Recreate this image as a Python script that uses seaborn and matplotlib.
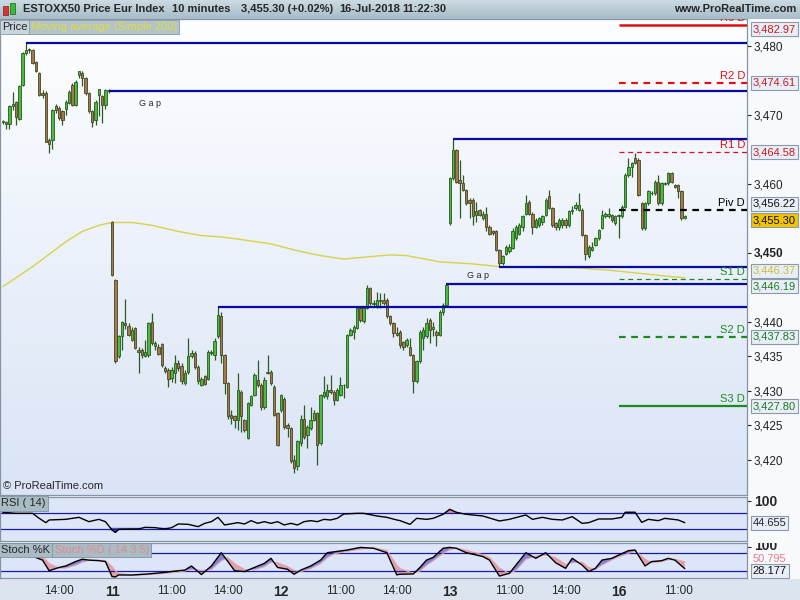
import numpy as np
import matplotlib
matplotlib.use("Agg")
import matplotlib.pyplot as plt
import seaborn as sns
from matplotlib.colors import LinearSegmentedColormap
from matplotlib.patches import Rectangle
from matplotlib.transforms import Bbox, TransformedBbox

# ---------------- data (10-minute bars, 10-Jul .. 16-Jul-2018) ----------------
opens = [
    # 10 Jul
    3469.0, 3469.0, 3468.6, 3471.2, 3471.9, 3469.4, 3474.3, 3478.9, 3479.4, 3479.4, 3477.6,
    3476.0, 3473.1, 3473.1, 3466.4, 3466.4, 3471.2, 3471.0, 3470.5, 3470.9, 3471.7, 3474.3,
    3471.4, 3475.8, 3476.0, 3475.3, 3473.1, 3470.5, 3469.2, 3472.9, 3472.7, 3471.4, 3473.6,
    # 11 Jul
    3454.5, 3446.1, 3435.0, 3438.0, 3439.8, 3439.4, 3437.4, 3439.1, 3436.0, 3435.9, 3435.1,
    3435.2, 3440.0, 3436.5, 3436.4, 3436.8, 3433.3, 3433.1, 3431.9, 3432.6, 3434.0, 3433.6,
    3431.1, 3432.8, 3435.0, 3435.5, 3433.5, 3430.9, 3432.1, 3431.8, 3435.5, 3435.2, 3437.9,
    3440.8, 3435.2, 3431.1, 3426.5, 3426.3, 3425.8, 3429.9, 3425.8, 3423.2, 3428.0, 3429.4,
    3431.6, 3430.9, 3427.7, 3432.6, 3432.8, 3430.6, 3426.8,
    # 12 Jul
    3427.3, 3428.9, 3425.1, 3424.6, 3420.0, 3419.1, 3422.4, 3426.0, 3423.6, 3424.6, 3425.8,
    3426.8, 3422.4, 3429.2, 3429.2, 3430.1, 3429.9, 3428.7, 3429.4, 3430.8, 3430.6, 3438.1,
    3438.6, 3439.1, 3442.0, 3440.1, 3442.0, 3444.9, 3442.6, 3442.3, 3443.0, 3443.2, 3443.1,
    3440.8, 3439.8, 3438.4, 3438.6, 3437.1, 3436.7, 3436.4, 3435.2, 3431.4, 3434.3, 3437.6,
    3437.9, 3440.3, 3439.0, 3438.6, 3438.1, 3441.5, 3442.5,
    # 13 Jul
    3454.3, 3460.8, 3464.9, 3460.6, 3460.1, 3459.1, 3457.7, 3457.7, 3455.5, 3456.2, 3455.0,
    3455.7, 3453.8, 3453.1, 3453.1, 3450.4, 3448.5, 3449.9, 3450.2, 3450.7, 3452.1, 3452.8,
    3453.8, 3455.7, 3457.4, 3455.7, 3453.8, 3454.0, 3454.5, 3455.5, 3458.2, 3456.5, 3454.3,
    3453.8, 3454.0, 3454.8, 3454.0, 3456.0, 3456.5, 3456.2, 3456.2, 3452.6, 3449.5, 3450.4,
    3451.2, 3452.1, 3453.6, 3455.3, 3455.3, 3455.5, 3454.3,
    # 16 Jul
    3455.3, 3455.3, 3456.7, 3461.3, 3462.5, 3463.7, 3463.5, 3457.2, 3453.6, 3457.2, 3458.6,
    3458.6, 3460.3, 3457.2, 3460.0, 3460.1, 3461.5, 3459.8, 3459.8, 3458.9, 3455.0,
]
highs = [
    3469.3, 3469.1, 3471.4, 3473.3, 3472.0, 3474.3, 3479.1, 3480.4, 3479.6, 3479.5, 3477.8,
    3476.2, 3473.6, 3473.4, 3466.6, 3470.8, 3471.5, 3471.3, 3470.7, 3472.2, 3473.6, 3474.6,
    3475.0, 3476.3, 3476.3, 3475.5, 3473.3, 3470.7, 3472.1, 3473.8, 3472.8, 3473.8, 3473.7,
    3454.6, 3446.2, 3438.1, 3440.1, 3443.3, 3439.8, 3439.3, 3439.3, 3436.3, 3436.2, 3437.4,
    3440.0, 3441.3, 3437.2, 3436.8, 3437.0, 3433.6, 3433.3, 3433.5, 3435.2, 3434.5, 3434.0,
    3433.0, 3437.6, 3436.0, 3435.8, 3433.8, 3432.0, 3432.3, 3436.0, 3436.0, 3437.6, 3442.1,
    3441.5, 3435.4, 3431.3, 3427.3, 3426.5, 3432.6, 3430.2, 3426.0, 3428.4, 3429.4, 3432.6,
    3434.5, 3431.1, 3432.0, 3435.2, 3433.0, 3430.8, 3427.0,
    3429.6, 3429.1, 3425.3, 3424.8, 3420.7, 3422.9, 3426.5, 3428.0, 3425.0, 3427.7, 3427.3,
    3427.0, 3429.6, 3432.2, 3431.0, 3432.3, 3430.1, 3430.4, 3432.0, 3431.0, 3438.3, 3439.1,
    3439.6, 3442.2, 3442.2, 3442.3, 3445.4, 3445.0, 3443.2, 3444.4, 3444.2, 3444.2, 3443.4,
    3441.0, 3440.0, 3439.3, 3438.8, 3437.3, 3437.6, 3437.6, 3435.4, 3434.5, 3438.8, 3439.3,
    3440.6, 3440.5, 3440.0, 3438.8, 3441.7, 3442.7, 3445.5,
    3461.0, 3466.5, 3465.1, 3463.5, 3461.3, 3459.3, 3457.9, 3457.9, 3457.4, 3456.4, 3456.0,
    3456.7, 3454.0, 3453.3, 3453.3, 3450.6, 3449.7, 3451.1, 3451.3, 3453.6, 3454.0, 3454.3,
    3455.5, 3458.4, 3457.6, 3455.9, 3455.0, 3455.2, 3455.5, 3457.9, 3459.1, 3456.7, 3454.5,
    3455.0, 3455.0, 3455.0, 3456.2, 3456.8, 3457.4, 3458.6, 3456.5, 3452.8, 3451.1, 3451.6,
    3452.3, 3453.5, 3456.2, 3455.9, 3456.5, 3455.7, 3455.5,
    3455.6, 3456.9, 3461.5, 3463.7, 3463.2, 3464.5, 3463.7, 3457.4, 3457.4, 3459.1, 3459.0,
    3460.5, 3461.3, 3460.3, 3460.3, 3461.7, 3461.7, 3460.0, 3460.0, 3459.1, 3455.5,
]
lows = [
    3468.6, 3468.0, 3468.0, 3470.7, 3468.5, 3469.2, 3474.2, 3478.7, 3479.0, 3477.3, 3476.2,
    3472.7, 3472.5, 3466.0, 3464.5, 3465.1, 3470.3, 3469.2, 3468.5, 3469.9, 3471.5, 3471.2,
    3471.2, 3475.3, 3474.1, 3472.9, 3470.3, 3468.3, 3468.5, 3469.8, 3468.8, 3470.9, 3473.1,
    3446.7, 3434.1, 3434.7, 3436.0, 3439.0, 3438.0, 3437.2, 3436.1, 3432.6, 3434.8, 3434.9,
    3434.9, 3436.7, 3436.0, 3435.2, 3433.5, 3432.6, 3430.6, 3431.3, 3431.1, 3432.9, 3431.0,
    3430.9, 3432.5, 3434.8, 3433.2, 3431.0, 3430.7, 3430.8, 3431.6, 3435.2, 3434.5, 3437.6,
    3434.0, 3429.5, 3426.0, 3425.2, 3424.6, 3424.4, 3424.0, 3424.1, 3423.0, 3427.8, 3429.2,
    3430.6, 3427.3, 3427.4, 3432.4, 3430.9, 3426.3, 3422.0,
    3427.0, 3424.5, 3423.4, 3419.5, 3418.1, 3418.5, 3422.0, 3423.1, 3421.8, 3424.4, 3425.6,
    3419.3, 3422.2, 3429.0, 3428.9, 3429.5, 3428.0, 3428.5, 3429.2, 3429.0, 3430.4, 3437.9,
    3437.5, 3438.9, 3440.0, 3439.9, 3441.8, 3442.5, 3442.2, 3442.0, 3442.0, 3442.5, 3440.6,
    3439.6, 3437.8, 3437.9, 3436.2, 3435.9, 3436.4, 3435.0, 3429.7, 3431.1, 3434.0, 3436.0,
    3437.6, 3437.0, 3438.0, 3436.5, 3437.9, 3441.0, 3442.3,
    3454.1, 3460.6, 3460.1, 3455.0, 3458.9, 3456.9, 3455.0, 3454.0, 3454.5, 3455.3, 3454.8,
    3453.1, 3452.6, 3452.6, 3450.2, 3447.9, 3448.3, 3449.7, 3450.0, 3450.5, 3451.9, 3452.6,
    3453.2, 3455.5, 3455.5, 3452.8, 3453.6, 3453.8, 3454.0, 3455.3, 3456.3, 3453.8, 3453.3,
    3453.3, 3453.6, 3453.6, 3453.8, 3455.7, 3456.2, 3456.0, 3452.4, 3449.0, 3449.3, 3450.2,
    3451.0, 3451.9, 3453.4, 3455.0, 3455.0, 3454.5, 3454.0,
    3452.1, 3455.0, 3456.5, 3461.0, 3461.0, 3462.8, 3458.2, 3453.3, 3453.3, 3457.0, 3458.4,
    3458.4, 3457.0, 3457.0, 3459.8, 3459.9, 3460.1, 3459.4, 3458.0, 3454.8, 3454.9,
]
closes = [
    3469.1, 3468.6, 3471.2, 3471.5, 3469.7, 3474.2, 3478.9, 3479.4, 3479.3, 3477.5, 3476.4,
    3472.9, 3472.9, 3466.1, 3465.8, 3470.7, 3470.7, 3469.5, 3469.3, 3471.9, 3473.3, 3471.4,
    3474.8, 3476.3, 3475.3, 3473.1, 3470.5, 3469.0, 3471.9, 3473.7, 3471.4, 3473.6, 3473.4,
    3446.8, 3434.3, 3437.9, 3440.0, 3439.5, 3438.1, 3438.8, 3436.2, 3435.7, 3435.2, 3435.6,
    3439.8, 3436.9, 3436.9, 3435.4, 3433.7, 3432.9, 3431.8, 3433.0, 3434.0, 3433.3, 3431.4,
    3432.6, 3435.0, 3435.5, 3433.5, 3431.4, 3431.8, 3431.0, 3435.7, 3435.7, 3437.2, 3441.0,
    3435.2, 3431.1, 3426.3, 3426.1, 3425.8, 3430.2, 3426.3, 3424.4, 3428.2, 3429.2, 3432.3,
    3430.9, 3427.7, 3431.6, 3432.8, 3431.1, 3426.5, 3422.2,
    3429.4, 3424.8, 3424.6, 3419.8, 3418.9, 3422.7, 3426.0, 3423.4, 3424.8, 3425.8, 3426.8,
    3422.2, 3429.4, 3429.9, 3430.2, 3429.9, 3428.7, 3430.2, 3430.9, 3430.7, 3438.1, 3438.8,
    3439.3, 3442.0, 3440.3, 3442.0, 3444.9, 3442.7, 3442.8, 3443.2, 3443.2, 3442.8, 3440.8,
    3439.8, 3438.4, 3438.1, 3436.7, 3436.4, 3437.4, 3435.2, 3431.4, 3434.3, 3438.6, 3438.8,
    3439.8, 3438.8, 3439.2, 3438.1, 3441.5, 3442.5, 3445.4,
    3460.8, 3464.9, 3460.3, 3460.1, 3459.1, 3457.2, 3457.2, 3455.3, 3456.0, 3455.5, 3455.7,
    3453.8, 3452.8, 3452.9, 3450.4, 3448.5, 3449.5, 3450.9, 3450.9, 3453.1, 3453.8, 3454.0,
    3455.3, 3457.2, 3455.7, 3453.8, 3454.8, 3455.0, 3455.3, 3457.7, 3456.5, 3454.0, 3453.8,
    3454.8, 3454.8, 3454.0, 3456.0, 3456.2, 3456.9, 3456.9, 3452.6, 3449.9, 3450.9, 3450.9,
    3452.1, 3453.3, 3455.5, 3455.7, 3455.7, 3454.8, 3455.3,
    3455.4, 3456.7, 3461.3, 3462.5, 3463.0, 3463.0, 3458.4, 3453.6, 3457.2, 3458.9, 3458.7,
    3460.3, 3457.2, 3460.1, 3460.1, 3461.5, 3460.3, 3459.6, 3458.9, 3455.0, 3455.3,
]

# simple moving average 200 at a few bars
ma_bar = [0, 9, 19, 24, 29, 33, 39, 45, 52, 60, 66, 71, 81, 89, 96, 103, 112, 117, 122,
          132, 142, 150, 162, 174, 183, 193, 201, 206]
ma_val = [3445.1, 3448.0, 3451.6, 3453.1, 3454.0, 3454.4, 3454.4, 3454.0, 3453.2, 3452.5,
          3452.3, 3452.0, 3451.3, 3450.3, 3449.6, 3449.1, 3449.5, 3449.7, 3449.6, 3448.7,
          3448.4, 3448.0, 3447.9, 3447.8, 3447.5, 3447.0, 3446.6, 3446.4]

# horizontal "gap" / high-low lines: level and first bar
level_val = [3480.4, 3473.4, 3442.1, 3445.5, 3466.5, 3447.9]
level_start = [7, 32, 65, 134, 136, 150]

# daily pivots
pivot_names = ["R3 D", "R2 D", "R1 D", "Piv D", "S1 D", "S2 D", "S3 D"]
pivot_levels = [3482.97, 3474.61, 3464.58, 3456.22, 3446.19, 3437.83, 3427.80]

# RSI(14)
rsi_bar = [0, 4, 9, 11, 13, 14, 19, 23, 26, 29, 31, 33, 34, 35, 41, 43, 46, 49, 51, 53, 56, 59,
           61, 63, 65, 67, 71, 73, 75, 77, 79, 81, 83, 85, 87, 89, 91, 93, 95, 97, 99, 101, 103,
           107, 109, 113, 116, 119, 120, 123, 125, 128, 130, 133, 135, 137, 140, 145, 150, 153,
           158, 160, 163, 166, 169, 172, 175, 177, 180, 184, 187, 188, 191, 193, 195, 198, 200,
           204, 206]
rsi_val = [70.4, 67.9, 67.9, 55.4, 44.6, 51.3, 52.9, 57.9, 47.1, 52.9, 47.1, 26.3, 20.4, 27.9,
           28.8, 32.9, 32.1, 28.8, 32.1, 41.3, 40.4, 34.6, 42.9, 47.1, 57.9, 38.8, 44.6, 41.3,
           49.6, 42.9, 47.1, 42.9, 47.1, 38.8, 42.9, 38.8, 47.1, 49.6, 47.1, 52.9, 51.3, 55.4,
           66.3, 67.9, 67.9, 61.3, 57.9, 51.3, 49.6, 40.4, 55.4, 52.9, 55.4, 65.4, 77.9, 70.4,
           65.4, 61.3, 48.8, 52.9, 63.8, 52.9, 57.9, 52.9, 51.3, 59.6, 42.9, 44.6, 53.8, 53.8,
           57.9, 70.4, 70.4, 45.4, 52.9, 49.6, 55.4, 51.3, 44.655]

# Stochastic %K / %D (14 3 5)
sto_bar = [0, 5, 9, 12, 14, 17, 19, 22, 24, 26, 29, 31, 33, 34, 35, 39, 44, 49, 53, 55, 57, 60,
           63, 66, 68, 70, 73, 76, 79, 81, 83, 86, 88, 90, 93, 96, 98, 100, 104, 108, 112, 116,
           119, 120, 124, 126, 128, 130, 133, 135, 137, 140, 145, 147, 150, 153, 155, 158, 161,
           164, 167, 170, 172, 175, 177, 179, 181, 184, 186, 189, 191, 194, 196, 199, 201, 203,
           206]
sto_k = [88, 80, 70, 57, 21, 32, 37, 52, 60, 57, 55, 52, 1, 0, 6.5, 6.5, 10, 15.5, 21, 23, 37,
         8, 37, 82, 52, 21, 18, 32, 46, 63, 32, 26, 9, 23, 37, 57, 82, 85, 91, 100, 97, 82, 7,
         9, 10, 32, 57, 66, 97, 100, 97, 82, 69, 57, 3, 12, 40, 82, 63, 82, 48, 29, 63, 40, 18,
         29, 57, 63, 74, 89, 91, 37, 52, 55, 63, 57, 28.177]
sto_d = [85, 84, 78, 68, 45, 30, 30, 40, 50, 56, 57, 55, 35, 20, 12, 5, 8, 12, 17, 20, 26, 22,
         25, 55, 65, 45, 25, 24, 35, 50, 48, 35, 22, 18, 28, 45, 65, 78, 87, 94, 98, 90, 40, 28,
         12, 20, 40, 55, 80, 92, 98, 90, 75, 66, 30, 12, 22, 60, 70, 74, 65, 42, 48, 50, 32, 25,
         40, 58, 68, 80, 88, 60, 48, 52, 58, 60, 50.795]

tick_bar = [17, 33, 51, 68, 84, 102, 119, 135, 153, 170, 186, 204]
tick_text = ["14:00", "11", "11:00", "14:00", "12", "11:00", "14:00", "13", "11:00", "14:00",
             "16", "11:00"]

# ---------------- figure ----------------
sns.set_style("white")
plt.rcParams["font.family"] = ["Liberation Sans", "DejaVu Sans"]

fig = plt.figure(figsize=(8, 6), dpi=100, facecolor="#f7f9fd")


def fy(px):
    return 1 - px / 600


XL = (-0.85, 224.8)
ax = fig.add_axes([0, fy(495), 747 / 800, 476 / 600])
rsi_ax = fig.add_axes([0, fy(541), 747 / 800, 44 / 600])
sto_ax = fig.add_axes([0, fy(578), 747 / 800, 35 / 600])

# bottom band behind the time axis
fig.patches.append(Rectangle((0, 0), 1, 21 / 600, transform=fig.transFigure,
                             facecolor="#dce4ef", edgecolor="none", zorder=-5))

# main panel background gradient
grad = np.linspace(0, 1, 256).reshape(-1, 1)
bg_cmap = LinearSegmentedColormap.from_list("bg", ["#fdfeff", "#dae4f6"])
ax.imshow(grad, extent=(0, 1, 0, 1), transform=ax.transAxes, aspect="auto",
          cmap=bg_cmap, zorder=0)

o = np.array(opens)
h = np.array(highs)
l = np.array(lows)
c = np.array(closes)
x = np.arange(len(c))
up = c >= o

ax.vlines(x, l, h, color="#2d5a22", lw=0.9, zorder=3)
body = np.where(np.abs(c - o) < 0.12, 0.12, c - o)
ax.bar(x[up], body[up], bottom=o[up], width=0.72, color="#48bb40",
       edgecolor="#2a5a1e", linewidth=0.6, zorder=4)
ax.bar(x[~up], body[~up], bottom=o[~up], width=0.72, color="#a8774c",
       edgecolor="#3e4a22", linewidth=0.6, zorder=4)

# moving average
sns.lineplot(x=ma_bar, y=ma_val, ax=ax, color="#d6d24a", linewidth=1.0, zorder=2)

# gap / extreme lines
for lv, st in zip(level_val, level_start):
    ax.hlines(lv, st, XL[1], color="#0a0aa0", lw=1.6, zorder=5)
ax.text(44.5, 3471.6, "G a p", fontsize=6.5, ha="center", va="center", zorder=6)
ax.text(143.6, 3446.7, "G a p", fontsize=6.5, ha="center", va="center", zorder=6)

# pivots
pv_colors = ["#e01010", "#e01010", "#e01010", "#000000", "#1d8a1d", "#1d8a1d", "#1d8a1d"]
pv_styles = ["-", (0, (3, 2.5)), (0, (4, 3)), (0, (3, 2.5)), (0, (4, 3)), (0, (3, 2.5)), "-"]
pv_width = [1.8, 1.6, 0.9, 1.6, 0.9, 1.6, 1.6]
for name, lv, col, ls, lw in zip(pivot_names, pivot_levels, pv_colors, pv_styles, pv_width):
    ax.hlines(lv, 186, XL[1], color=col, linestyle=ls, lw=lw, zorder=5)
    ax.text(XL[1] - 0.6, lv + 0.25, name, color=col, fontsize=8, ha="right", va="bottom",
            zorder=6, clip_on=True)

ax.set_xlim(*XL)
ax.set_ylim(3414.93, 3483.87)
ax.set_xticks([])
ax.yaxis.tick_right()
yt = [3420, 3425, 3430, 3435, 3440, 3450, 3460, 3470, 3480]
ax.set_yticks(yt)
ax.set_yticklabels([f"{v:,}" for v in yt])
for t, v in zip(ax.get_yticklabels(), yt):
    if v == 3450:
        t.set_fontweight("bold")
        t.set_fontsize(10)
ax.tick_params(axis="y", direction="out", length=3, pad=2, labelsize=8.5, colors="#222222")
ax.set_xlabel("")
ax.set_ylabel("")

# value boxes on the right
yaxis_tr = ax.get_yaxis_transform()
box_vals = [3482.97, 3474.61, 3464.58, 3456.22, 3455.30, 3446.37, 3446.19, 3437.83, 3427.80]
box_text_col = ["#d01818", "#d01818", "#d01818", "#111111", "#111111", "#c8c030",
                "#1d7a1d", "#1d7a1d", "#1d7a1d"]
box_face = ["#e8eef7"] * 4 + ["#f2c400"] + ["#e8eef7"] * 4
box_shift = [-3, 0, 0, 4.5, -3, 5, -5, 0, 0]
for v, tc, fc, dy in zip(box_vals, box_text_col, box_face, box_shift):
    ax.annotate(f"{v:,.2f}", xy=(1, v), xycoords=yaxis_tr, xytext=(4, dy),
                textcoords="offset points", ha="left", va="center", fontsize=8, color=tc,
                bbox=dict(boxstyle="square,pad=0.18", fc=fc, ec="#8c99a8", lw=0.8),
                annotation_clip=False, zorder=7)

fig.text(2 / 800, fy(27), "Price", fontsize=8, va="center", ha="left",
         bbox=dict(boxstyle="square,pad=0.2", fc="#c9d5dd", ec="#8a9aa6", lw=0.6))
fig.text(31 / 800, fy(27), "Moving average (Simple 200)", fontsize=8, va="center",
         ha="left", color="#dede40",
         bbox=dict(boxstyle="square,pad=0.2", fc="#b3c3cb", ec="#8a9aa6", lw=0.6))
ax.text(0.004, 0.008, "\u00a9 ProRealTime.com", transform=ax.transAxes, fontsize=8,
        va="bottom", ha="left", zorder=6)

# ---------------- RSI ----------------
rsi_ax.set_facecolor("#dce6f8")
r = np.array(rsi_val)
rb = np.array(rsi_bar)
rsi_ax.fill_between(rb, r, 70, where=r > 70, interpolate=True, color="#d88a9a", zorder=1)
rsi_ax.fill_between(rb, r, 30, where=r < 30, interpolate=True, color="#5a5ab8", zorder=1)
rsi_ax.axhline(70, color="#1c1c9a", lw=0.9, zorder=1)
rsi_ax.axhline(30, color="#1c1c9a", lw=0.9, zorder=1)
sns.lineplot(x=rsi_bar, y=rsi_val, ax=rsi_ax, color="black", linewidth=1.0, zorder=3)
rsi_ax.set_xlim(*XL)
rsi_ax.set_ylim(-1.25, 108.75)
rsi_ax.set_xticks([])
rsi_ax.yaxis.tick_right()
rsi_ax.set_yticks([100])
rsi_ax.set_yticklabels(["100"], fontweight="bold", fontsize=10)
rsi_ax.tick_params(axis="y", length=3, pad=2)
rsi_ax.set_xlabel("")
rsi_ax.set_ylabel("")
rsi_ax.text(0.002, 0.97, "RSI ( 14)", transform=rsi_ax.transAxes, fontsize=8, va="top",
            bbox=dict(boxstyle="square,pad=0.2", fc="#a9bcc4", ec="#7f95a0", lw=0.6), zorder=6)
rsi_ax.annotate("44.655", xy=(1, 44.655), xycoords=rsi_ax.get_yaxis_transform(),
                xytext=(4, 0), textcoords="offset points", va="center", fontsize=8,
                bbox=dict(boxstyle="square,pad=0.18", fc="#e8eef7", ec="#8c99a8", lw=0.8),
                annotation_clip=False)

# ---------------- Stochastic ----------------
sto_ax.set_facecolor("#dce6f8")
k = np.array(sto_k)
d = np.array(sto_d)
sb = np.array(sto_bar)
sto_ax.fill_between(sb, k, d, where=k >= d, interpolate=True, color="#6a6ad0", alpha=0.8,
                    lw=0, zorder=1)
sto_ax.fill_between(sb, k, d, where=k < d, interpolate=True, color="#e09aa2", alpha=0.9,
                    lw=0, zorder=1)
sto_ax.axhline(80, color="#1c1c9a", lw=0.9, zorder=2)
sto_ax.axhline(20, color="#1c1c9a", lw=0.9, zorder=2)
sns.lineplot(x=sto_bar, y=sto_d, ax=sto_ax, color="#e6a0a8", linewidth=0.8, zorder=2)
sns.lineplot(x=sto_bar, y=sto_k, ax=sto_ax, color="black", linewidth=1.0, zorder=3)
sto_ax.set_xlim(*XL)
sto_ax.set_ylim(-3.7, 114.9)
sto_ax.yaxis.tick_right()
sto_ax.set_yticks([100])
sto_ax.set_yticklabels([""])
sto_ax.tick_params(axis="y", length=3, pad=2)
# "100" label partly hidden under the RSI panel, as in the original
hundred = sto_ax.annotate("100", xy=(1, 100), xycoords=sto_ax.get_yaxis_transform(),
                          xytext=(5, 1), textcoords="offset points", va="center",
                          fontsize=10, fontweight="bold", annotation_clip=False)
hundred.set_clip_box(TransformedBbox(Bbox([[747 / 800, 0], [1, fy(543)]]), fig.transFigure))
hundred.set_clip_on(True)
sto_ax.set_xticks(tick_bar)
sto_ax.set_xticklabels(tick_text)
for t in sto_ax.get_xticklabels():
    if ":" in t.get_text():
        t.set_fontsize(8.5)
    else:
        t.set_fontsize(10)
        t.set_fontweight("bold")
sto_ax.tick_params(axis="x", length=0, pad=5)
sto_ax.set_xlabel("")
sto_ax.set_ylabel("")
sto_ax.text(0.002, 0.95, "Stoch %K", transform=sto_ax.transAxes, fontsize=8, va="top",
            bbox=dict(boxstyle="square,pad=0.2", fc="#a9bcc4", ec="#7f95a0", lw=0.6), zorder=6)
sto_ax.text(0.073, 0.95, "Stoch %D ( 14 3 5)", transform=sto_ax.transAxes, fontsize=8,
            va="top", color="#e08890",
            bbox=dict(boxstyle="square,pad=0.2", fc="#a9bcc4", ec="#7f95a0", lw=0.6), zorder=6)
# %D value (no frame) and %K value (framed)
sto_ax.annotate("50.795", xy=(1, 50.795), xycoords=sto_ax.get_yaxis_transform(),
                xytext=(4, 2), textcoords="offset points", va="center", fontsize=8,
                color="#e07f88", annotation_clip=False)
sto_ax.annotate("28.177", xy=(1, 28.177), xycoords=sto_ax.get_yaxis_transform(),
                xytext=(4, -2), textcoords="offset points", va="center", fontsize=8,
                color="#111111",
                bbox=dict(boxstyle="square,pad=0.18", fc="#e8eef7", ec="#8c99a8", lw=0.8),
                annotation_clip=False)

for a in (ax, rsi_ax, sto_ax):
    for s in a.spines.values():
        s.set_color("#8594a4")
        s.set_linewidth(0.9)

# ---------------- header bar ----------------
hax = fig.add_axes([0, fy(19), 1, 19 / 600])
hdr_cmap = LinearSegmentedColormap.from_list("hdr", ["#cddbe3", "#a6bcc8"])
hax.imshow(grad, extent=(0, 1, 0, 1), aspect="auto", cmap=hdr_cmap)
hax.set_xlim(0, 1)
hax.set_ylim(0, 1)
hax.axis("off")
for px, txt in [(23, "ESTOXX50 Price Eur Index"), (172, "10 minutes"),
                (241, "3,455.30 (+0.02%)"), (339, "16-Jul-2018"), (402, "11:22:30")]:
    hax.text(px / 800, 0.5, txt, fontsize=8, fontweight="bold", va="center", ha="left")
hax.text(796 / 800, 0.5, "www.ProRealTime.com", fontsize=8, fontweight="bold",
         va="center", ha="right")
# small candle icon
hax.add_patch(Rectangle((3 / 800, 0.2), 5 / 800, 0.5, fc="#e03030", ec="#802020", lw=0.5))
hax.add_patch(Rectangle((10 / 800, 0.25), 5 / 800, 0.6, fc="#30c030", ec="#206020", lw=0.5))

fig.savefig("out.png", dpi=100, facecolor=fig.get_facecolor())
